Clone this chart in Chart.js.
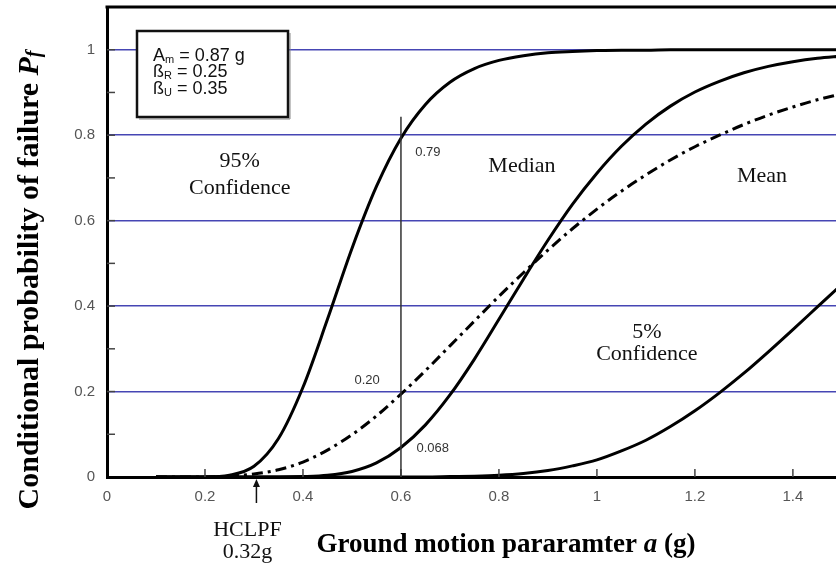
<!DOCTYPE html>
<html>
<head>
<meta charset="utf-8">
<script src="https://cdn.jsdelivr.net/npm/chart.js@4.4.1/dist/chart.umd.min.js"></script>
<style>
  html, body { margin: 0; padding: 0; background: #fff; }
  canvas { display: block; }
</style>
</head>
<body>
<canvas id="fragilityChart" width="836" height="564"></canvas>
<script>
// Ground motion values (g) where the curves were read
const accel = [0.10, 0.15, 0.20, 0.25, 0.30, 0.35, 0.40, 0.45, 0.50, 0.55,
               0.60, 0.65, 0.70, 0.75, 0.80, 0.85, 0.90, 0.95, 1.00, 1.05,
               1.10, 1.15, 1.20, 1.25, 1.30, 1.35, 1.40, 1.45, 1.50];

// Conditional probability of failure for each curve
const conf95 = [0, 0, 0, 0.004, 0.025, 0.090, 0.210, 0.369, 0.535, 0.680,
                0.793, 0.872, 0.924, 0.956, 0.975, 0.986, 0.993, 0.996, 0.998, 0.999,
                0.999, 1, 1, 1, 1, 1, 1, 1, 1];
const median = [0, 0, 0, 0, 0, 0, 0.001, 0.004, 0.013, 0.033,
                0.069, 0.122, 0.192, 0.276, 0.369, 0.463, 0.554, 0.638, 0.711, 0.774,
                0.826, 0.868, 0.901, 0.926, 0.946, 0.961, 0.972, 0.980, 0.985];
const mean = [0, 0, 0, 0.002, 0.007, 0.017, 0.035, 0.063, 0.099, 0.143,
              0.194, 0.249, 0.307, 0.365, 0.423, 0.478, 0.531, 0.581, 0.627, 0.669,
              0.707, 0.742, 0.773, 0.800, 0.825, 0.847, 0.866, 0.883, 0.897];
const conf5 = [0, 0, 0, 0, 0, 0, 0, 0, 0, 0,
               0, 0, 0.001, 0.002, 0.004, 0.008, 0.015, 0.026, 0.040, 0.061,
               0.086, 0.118, 0.155, 0.197, 0.243, 0.293, 0.345, 0.398, 0.451];

// Axis ticks
const xTicks = [0, 0.2, 0.4, 0.6, 0.8, 1, 1.2, 1.4];
const yTicks = [0, 0.2, 0.4, 0.6, 0.8, 1];
const yMinorTicks = [0.1, 0.2, 0.3, 0.4, 0.5, 0.6, 0.7, 0.8, 0.9, 1];

// Marked readings at a = 0.6 g and the HCLPF
const markA = 0.6;
const hclpfA = 0.305;

const SANS = '"Liberation Sans", Arial, sans-serif';
const SERIF = '"Liberation Serif", "Times New Roman", serif';

function toPoints(values) {
    return accel.map((a, i) => ({ x: a, y: values[i] }));
}

function curve(values, dash) {
    return {
        data: toPoints(values),
        borderColor: '#000',
        borderWidth: 3,
        borderDash: dash || [],
        pointRadius: 0,
        fill: false,
        cubicInterpolationMode: 'monotone'
    };
}

// Draw a row of text pieces with different fonts
function drawRuns(ctx, runs, x, y, align) {
    let total = 0;
    runs.forEach(r => { ctx.font = r.font; total += ctx.measureText(r.text).width; });
    let cx = align === 'center' ? x - total / 2 : x;
    ctx.textAlign = 'left';
    runs.forEach(r => {
        ctx.font = r.font;
        ctx.fillText(r.text, cx, y + (r.dy || 0));
        cx += ctx.measureText(r.text).width;
    });
}

const decorations = {
    id: 'decorations',
    afterDatasetsDraw(chart) {
        const { ctx, chartArea: area, scales: { x, y } } = chart;
        const px = v => x.getPixelForValue(v);
        const py = v => y.getPixelForValue(v);
        ctx.save();

        // top frame line
        ctx.strokeStyle = '#000';
        ctx.lineWidth = 3;
        ctx.beginPath();
        ctx.moveTo(area.left - 1.5, area.top);
        ctx.lineTo(area.right, area.top);
        ctx.stroke();

        // inward tick marks
        ctx.strokeStyle = '#444';
        ctx.lineWidth = 1.5;
        yMinorTicks.forEach(v => {
            ctx.beginPath();
            ctx.moveTo(area.left, py(v));
            ctx.lineTo(area.left + 8, py(v));
            ctx.stroke();
        });
        xTicks.slice(1).forEach(v => {
            ctx.beginPath();
            ctx.moveTo(px(v), area.bottom);
            ctx.lineTo(px(v), area.bottom - 8);
            ctx.stroke();
        });

        // vertical reading line at a = 0.6 g
        ctx.strokeStyle = '#333';
        ctx.lineWidth = 1.5;
        ctx.beginPath();
        ctx.moveTo(px(markA), py(0.843));
        ctx.lineTo(px(markA), area.bottom);
        ctx.stroke();

        // parameter box
        ctx.fillStyle = '#fff';
        ctx.fillRect(137, 31, 151, 86);
        ctx.strokeStyle = '#888';
        ctx.lineWidth = 1;
        ctx.beginPath();
        ctx.moveTo(290, 33);
        ctx.lineTo(290, 119);
        ctx.lineTo(139, 119);
        ctx.stroke();
        ctx.strokeStyle = '#111';
        ctx.lineWidth = 2.5;
        ctx.strokeRect(137, 31, 151, 86);

        ctx.fillStyle = '#111';
        ctx.textBaseline = 'alphabetic';
        const big = '18px ' + SANS;
        const sub = '11px ' + SANS;
        drawRuns(ctx, [{ text: 'A', font: big }, { text: 'm', font: sub, dy: 2 }, { text: ' = 0.87 g', font: big }], 153, 61);
        drawRuns(ctx, [{ text: 'ß', font: big }, { text: 'R', font: sub, dy: 2 }, { text: ' = 0.25', font: big }], 153, 77);
        drawRuns(ctx, [{ text: 'ß', font: big }, { text: 'U', font: sub, dy: 2 }, { text: ' = 0.35', font: big }], 153, 94);

        // curve labels
        ctx.textAlign = 'center';
        ctx.textBaseline = 'middle';
        ctx.fillStyle = '#111';
        ctx.font = '22px ' + SERIF;
        ctx.fillText('95%', px(0.271), py(0.738));
        ctx.fillText('Confidence', px(0.271), py(0.677));
        ctx.fillText('Median', px(0.847), py(0.728));
        ctx.fillText('Mean', px(1.337), py(0.703));
        ctx.fillText('5%', px(1.102), py(0.340));
        ctx.fillText('Confidence', px(1.102), py(0.288));

        // readings at a = 0.6 g
        ctx.fillStyle = '#333';
        ctx.font = '13px ' + SANS;
        ctx.fillText('0.79', px(0.655), py(0.759));
        ctx.fillText('0.20', px(0.531), py(0.227));
        ctx.fillText('0.068', px(0.665), py(0.066));

        // HCLPF arrow
        const ax = px(hclpfA);
        ctx.strokeStyle = '#111';
        ctx.fillStyle = '#111';
        ctx.lineWidth = 1.5;
        ctx.beginPath();
        ctx.moveTo(ax, area.bottom + 8);
        ctx.lineTo(ax, area.bottom + 26);
        ctx.stroke();
        ctx.beginPath();
        ctx.moveTo(ax, area.bottom + 2);
        ctx.lineTo(ax - 3.5, area.bottom + 10);
        ctx.lineTo(ax + 3.5, area.bottom + 10);
        ctx.closePath();
        ctx.fill();
        ctx.font = '22px ' + SERIF;
        ctx.fillText('HCLPF', ax - 9, 530);
        ctx.fillText('0.32g', ax - 9, 552);

        ctx.restore();
    },
    afterDraw(chart) {
        const { ctx } = chart;
        ctx.save();
        ctx.fillStyle = '#000';
        ctx.textBaseline = 'middle';
        const bold = 'bold 27px ' + SERIF;
        const boldIt = 'italic bold 27px ' + SERIF;

        // x axis title
        drawRuns(ctx, [
            { text: 'Ground motion pararamter ', font: bold },
            { text: 'a', font: boldIt },
            { text: ' (g)', font: bold }
        ], 506, 545, 'center');

        // y axis title
        ctx.translate(30, 280);
        ctx.rotate(-Math.PI / 2);
        drawRuns(ctx, [
            { text: 'Conditional probability of failure ', font: 'bold 30px ' + SERIF },
            { text: 'P', font: 'italic bold 30px ' + SERIF },
            { text: 'f', font: 'italic bold 20px ' + SERIF, dy: 5 }
        ], 0, 0, 'center');
        ctx.restore();
    }
};

const ctx = document.getElementById('fragilityChart').getContext('2d');
const fragilityChart = new Chart(ctx, {
    type: 'line',
    data: {
        datasets: [
            curve(conf95),
            curve(median),
            curve(mean, [11, 5, 3, 5]),
            curve(conf5)
        ]
    },
    options: {
        responsive: false,
        animation: false,
        devicePixelRatio: 1,
        layout: { padding: { top: 7, right: 0, left: 0, bottom: 0 } },
        plugins: {
            legend: { display: false },
            tooltip: { enabled: false }
        },
        scales: {
            x: {
                type: 'linear',
                min: 0,
                max: 1.488,
                afterBuildTicks: scale => { scale.ticks = xTicks.map(v => ({ value: v })); },
                afterFit: scale => {
                    scale.height = 87;
                    scale.paddingLeft = 0;
                    scale.paddingRight = 0;
                },
                grid: { display: false, drawTicks: false },
                border: { display: true, color: '#000', width: 3 },
                ticks: {
                    padding: 11,
                    color: '#555',
                    font: { family: SANS, size: 15 },
                    maxRotation: 0,
                    callback: v => String(v)
                }
            },
            y: {
                min: 0,
                max: 1.1,
                afterBuildTicks: scale => { scale.ticks = yTicks.map(v => ({ value: v })); },
                afterFit: scale => {
                    scale.width = 107;
                    scale.paddingTop = 0;
                    scale.paddingBottom = 0;
                },
                grid: {
                    drawTicks: false,
                    lineWidth: 1.5,
                    color: c => (c.tick && c.tick.value === 0) ? 'rgba(0,0,0,0)' : '#4646b4'
                },
                border: { display: true, color: '#000', width: 3 },
                ticks: {
                    padding: 12,
                    color: '#555',
                    font: { family: SANS, size: 15 },
                    callback: v => String(v)
                }
            }
        }
    },
    plugins: [decorations]
});
</script>
</body>
</html>
